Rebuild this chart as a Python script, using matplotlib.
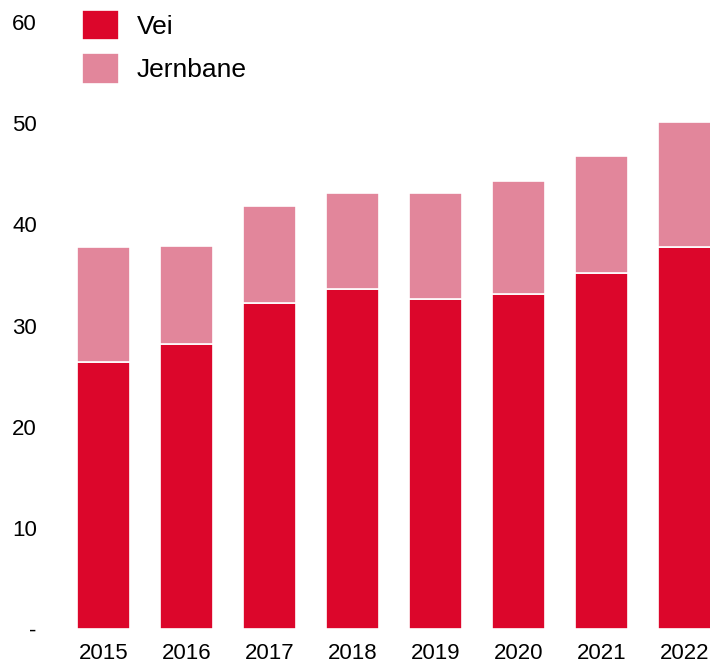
import matplotlib
matplotlib.use('Agg')
import matplotlib.pyplot as plt
import numpy as np

plt.rcParams['font.family'] = ['Liberation Sans', 'DejaVu Sans']

years = ['2015', '2016', '2017', '2018', '2019', '2020', '2021', '2022']
vei = [26.4, 28.2, 32.2, 33.6, 32.6, 33.1, 35.2, 37.8]
totals = [37.8, 37.9, 41.8, 43.1, 43.1, 44.3, 46.8, 50.1]
jernbane = [t - v for t, v in zip(totals, vei)]

yticks = [0, 10, 20, 30, 40, 50, 60]
ytick_labels = ['-', '10', '20', '30', '40', '50', '60']

c_vei = '#DC062B'
c_jern = '#E2869B'

fig = plt.figure(figsize=(7.1, 6.64), dpi=100)
ax = fig.add_axes([50 / 710, 1 - 629 / 664, 661 / 710, (629 - 22) / 664])

x = np.arange(len(years))
w = 0.64
ax.bar(x, vei, w, color=c_vei, edgecolor='white', linewidth=1.2, label='Vei')
ax.bar(x, jernbane, w, bottom=vei, color=c_jern, edgecolor='white', linewidth=1.2, label='Jernbane')

ax.set_xlim(-0.645, 7.32)
ax.set_ylim(0, 60)
ax.set_xticks(x)
ax.set_xticklabels(years, fontsize=16)
ax.set_yticks(yticks)
ax.set_yticklabels(ytick_labels, fontsize=16)
ax.tick_params(length=0)
ax.tick_params(axis='y', pad=9.5)
ax.tick_params(axis='x', pad=10)
for s in ax.spines.values():
    s.set_visible(False)

leg = fig.legend(loc='upper left', bbox_to_anchor=(71 / 710, 1 + 1 / 664),
                 frameon=False, fontsize=19, handlelength=1.4, handleheight=1.4,
                 handletextpad=0.7, labelspacing=0.5, borderaxespad=0)

fig.savefig('out.png', dpi=100)
